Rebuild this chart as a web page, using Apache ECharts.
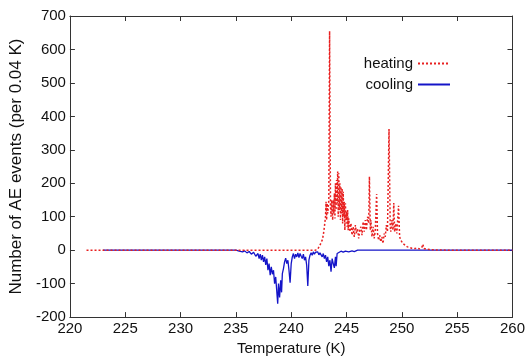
<!DOCTYPE html>
<html>
<head>
<meta charset="utf-8">
<script src="https://cdn.jsdelivr.net/npm/echarts@6/dist/echarts.min.js"></script>
<style>
  html, body { margin: 0; padding: 0; background: #fff; }
  #main { width: 528px; height: 361px; }
</style>
</head>
<body>
<div id="main"></div>
<script>
// heating (red, dotted): temperature / events
var heatT = [221.5, 242.2, 242.4, 242.5, 242.6, 242.7, 242.8, 242.9, 243.0, 243.1, 243.15, 243.2, 243.25, 243.3, 243.35, 243.4, 243.47, 243.55, 243.6, 243.65, 243.7, 243.75, 243.8, 243.85, 243.9, 243.95, 244.0, 244.05, 244.1, 244.15, 244.2, 244.25, 244.3, 244.35, 244.4, 244.45, 244.5, 244.55, 244.6, 244.65, 244.7, 244.75, 244.8, 244.85, 244.9, 244.95, 245.0, 245.05, 245.1, 245.15, 245.2, 245.3, 245.4, 245.5, 245.6, 245.7, 245.8, 245.9, 246.0, 246.1, 246.2, 246.3, 246.4, 246.5, 246.6, 246.7, 246.8, 246.9, 247.0, 247.07, 247.15, 247.2, 247.3, 247.4, 247.5, 247.6, 247.72, 247.8, 247.9, 248.0, 248.1, 248.2, 248.3, 248.4, 248.5, 248.6, 248.7, 248.84, 248.95, 249.0, 249.1, 249.2, 249.27, 249.35, 249.45, 249.55, 249.7, 249.8, 249.9, 250.0, 250.1, 250.2, 250.3, 250.4, 250.5, 250.6, 250.7, 250.8, 250.9, 251.0, 251.2, 251.4, 251.6, 251.8, 251.9, 252.0, 252.2, 252.5, 253.0, 254.0, 260.0];
var heatV = [0, 0, 3, 8, 15, 22, 30, 45, 70, 100, 145, 90, 140, 110, 130, 150, 655, 130, 100, 150, 120, 90, 150, 110, 170, 95, 200, 120, 210, 140, 235, 100, 230, 120, 200, 90, 190, 110, 185, 80, 175, 100, 145, 60, 140, 90, 115, 70, 120, 60, 95, 55, 80, 45, 70, 40, 75, 50, 65, 35, 60, 70, 45, 85, 55, 90, 60, 100, 80, 220, 60, 90, 40, 70, 35, 60, 168, 50, 30, 45, 25, 40, 20, 50, 40, 75, 55, 362, 70, 55, 90, 60, 141, 55, 80, 50, 133, 40, 30, 25, 20, 22, 15, 18, 10, 12, 8, 10, 6, 8, 5, 6, 4, 8, 18, 5, 3, 2, 1, 0, 0];

// cooling (blue, solid)
var coolT = [223.0, 235.0, 235.3, 235.6, 235.8, 236.0, 236.2, 236.4, 236.6, 236.8, 237.0, 237.1, 237.2, 237.3, 237.4, 237.5, 237.6, 237.7, 237.8, 237.9, 238.0, 238.1, 238.2, 238.3, 238.4, 238.5, 238.6, 238.7, 238.78, 238.85, 238.95, 239.05, 239.13, 239.2, 239.3, 239.4, 239.5, 239.6, 239.7, 239.8, 239.9, 240.0, 240.1, 240.2, 240.3, 240.4, 240.5, 240.6, 240.7, 240.8, 240.9, 241.0, 241.1, 241.2, 241.3, 241.4, 241.5, 241.6, 241.7, 241.8, 241.9, 242.0, 242.1, 242.2, 242.3, 242.4, 242.5, 242.6, 242.7, 242.8, 242.9, 243.0, 243.1, 243.2, 243.3, 243.4, 243.5, 243.6, 243.7, 243.8, 243.9, 244.0, 244.06, 244.15, 244.3, 244.5, 244.7, 244.9, 245.2, 245.5, 245.7, 246.0, 260.0];
var coolV = [0, 0, -3, -5, -2, -8, -4, -12, -6, -18, -10, -25, -12, -30, -15, -35, -20, -44, -25, -60, -40, -75, -50, -72, -60, -100, -80, -125, -160, -100, -141, -90, -126, -70, -55, -35, -24, -40, -30, -60, -97, -40, -20, -10, -25, -12, -20, -8, -22, -10, -18, -25, -12, -30, -20, -45, -107, -30, -15, -8, -15, -5, -12, -6, -10, -5, -14, -8, -12, -20, -10, -25, -15, -35, -20, -48, -30, -64, -25, -40, -53, -20, -48, -10, -5, -3, -6, -3, -5, -2, -4, 0, 0];

function pairs(xs, ys) {
    var out = [];
    for (var i = 0; i < xs.length; i++) {
        out.push([xs[i], ys[i]]);
    }
    return out;
}

var font = 'Liberation Sans, Arial, Helvetica, sans-serif';
var frame = { show: true, onZero: false, lineStyle: { color: '#333', width: 1 } };
var ticks = { show: true, inside: true, length: 5, lineStyle: { color: '#333' } };

var myChart = echarts.init(document.getElementById('main'));
var option = {
    animation: false,
    backgroundColor: '#fff',
    grid: { left: 58, right: 15, top: 16, bottom: 34 },
    legend: {
        orient: 'vertical',
        align: 'right',
        right: 72,
        top: 51,
        itemWidth: 32,
        itemHeight: 10,
        itemGap: 6,
        itemStyle: { opacity: 0 },
        textStyle: { fontFamily: font, fontSize: 15, color: '#111' },
        data: ['heating', 'cooling']
    },
    xAxis: [{
        type: 'value',
        min: 220, max: 260, interval: 5,
        name: 'Temperature (K)',
        nameLocation: 'middle',
        nameGap: 17,
        nameTextStyle: { fontFamily: font, fontSize: 15, color: '#111' },
        axisLine: frame,
        axisTick: ticks,
        axisLabel: { fontFamily: font, fontSize: 15, color: '#111', margin: 4 },
        splitLine: { show: false }
    }, {
        type: 'value', position: 'top',
        min: 220, max: 260, interval: 5,
        axisLine: frame, axisTick: ticks,
        axisLabel: { show: false }, splitLine: { show: false }
    }],
    yAxis: [{
        type: 'value',
        min: -200, max: 700, interval: 100,
        name: 'Number of AE events (per 0.04 K)',
        nameLocation: 'middle',
        nameGap: 33,
        nameTextStyle: { fontFamily: font, fontSize: 17, color: '#111' },
        axisLine: frame,
        axisTick: ticks,
        axisLabel: { fontFamily: font, fontSize: 15, color: '#111', margin: 4 },
        splitLine: { show: false }
    }, {
        type: 'value', position: 'right',
        min: -200, max: 700, interval: 100,
        axisLine: frame, axisTick: ticks,
        axisLabel: { show: false }, splitLine: { show: false }
    }],
    series: [
        {
            name: 'cooling',
            type: 'line',
            data: pairs(coolT, coolV),
            symbol: 'none',
            color: '#1414c8',
            lineStyle: { color: '#1414c8', width: 1.3 }
        },
        {
            name: 'heating',
            type: 'line',
            data: pairs(heatT, heatV),
            symbol: 'none',
            color: '#e82020',
            lineStyle: { color: '#e82020', width: 1.5, type: [2, 2] }
        }
    ]
};
myChart.setOption(option);
</script>
</body>
</html>
